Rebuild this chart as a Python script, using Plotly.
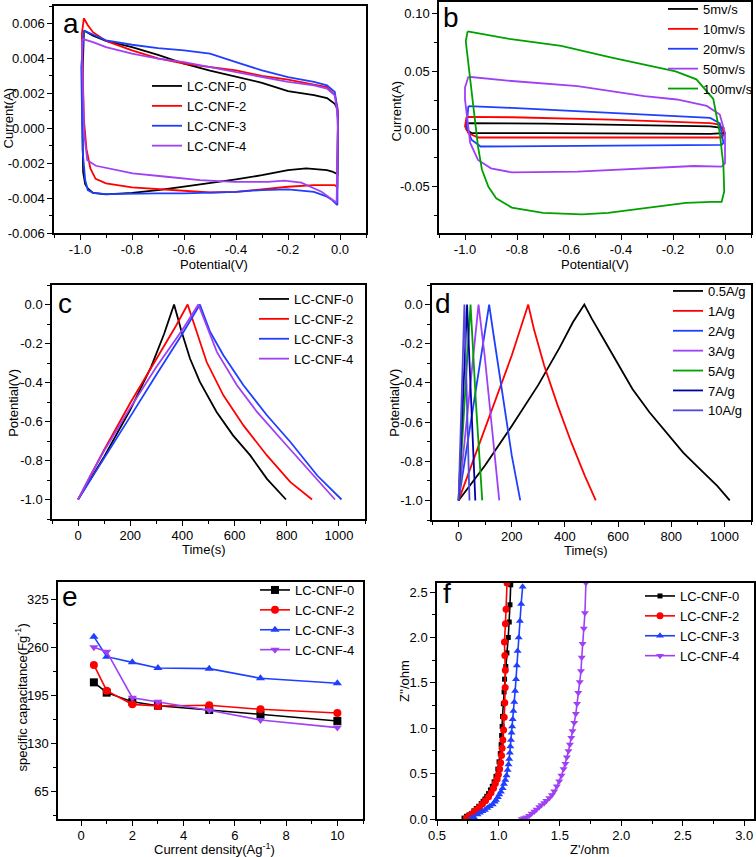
import plotly.graph_objects as go

W, H = 756, 857
FONT = "Liberation Sans, Arial, sans-serif"

# ---------------- data ----------------
# (a) CV of samples at one scan rate: potential (V) and current (A), closed loops
a_names = ["LC-CNF-0", "LC-CNF-2", "LC-CNF-3", "LC-CNF-4"]
a0_v = [-0.985, -0.95, -0.9, -0.8, -0.7, -0.6, -0.5, -0.4, -0.3, -0.2, -0.1, -0.05, -0.02, -0.01, -0.008,
        -0.01, -0.03, -0.05, -0.1, -0.13, -0.2, -0.3, -0.4, -0.5, -0.6, -0.7, -0.8, -0.9, -0.95, -0.97,
        -0.98, -0.988, -0.992, -0.985]
a0_i = [0.0056, 0.0053, 0.0050, 0.00465, 0.0042, 0.0037, 0.0033, 0.00297, 0.0026, 0.00213, 0.0019, 0.00173, 0.0014, 0.0011, 0.0006,
        -0.00263, -0.00248, -0.0024, -0.00232, -0.0023, -0.0024, -0.00269, -0.00293, -0.00316, -0.00335, -0.00354, -0.0037, -0.00379, -0.0037, -0.00345,
        -0.0032, -0.0025, 0.002, 0.0056]
a2_v = [-0.985, -0.97, -0.95, -0.9, -0.8, -0.7, -0.6, -0.5, -0.4, -0.3, -0.2, -0.1, -0.05, -0.02, -0.01, -0.008,
        -0.01, -0.02, -0.05, -0.1, -0.2, -0.3, -0.4, -0.5, -0.6, -0.7, -0.8, -0.9, -0.94, -0.96, -0.975,
        -0.985, -0.99, -0.993, -0.985]
a2_i = [0.0063, 0.0059, 0.0055, 0.0050, 0.00446, 0.0040, 0.0037, 0.0035, 0.00331, 0.0030, 0.00278, 0.0025, 0.00236, 0.0019, 0.0012, 0.0005,
        -0.00339, -0.00326, -0.00326, -0.00326, -0.00335, -0.0035, -0.00364, -0.00368, -0.00358, -0.00349, -0.00339, -0.00316, -0.0029, -0.0023, -0.0012,
        0.0005, 0.003, 0.0054, 0.0063]
a3_v = [-0.985, -0.9, -0.8, -0.7, -0.6, -0.5, -0.4, -0.3, -0.2, -0.1, -0.05, -0.02, -0.01, -0.008,
        -0.01, -0.03, -0.05, -0.1, -0.2, -0.3, -0.4, -0.5, -0.6, -0.7, -0.8, -0.9, -0.95, -0.97,
        -0.98, -0.99, -0.995, -0.985]
a3_i = [0.0056, 0.00503, 0.00478, 0.00459, 0.00446, 0.00427, 0.00379, 0.00331, 0.00293, 0.00265, 0.00246, 0.00208, 0.00103, 0.00008,
        -0.0044, -0.00411, -0.00392, -0.00364, -0.0035, -0.00354, -0.00364, -0.0037, -0.00373, -0.00373, -0.00373, -0.00377, -0.0037, -0.00354,
        -0.00297, -0.00126, 0.0035, 0.0056]
a4_v = [-0.991, -0.95, -0.9, -0.8, -0.7, -0.6, -0.5, -0.4, -0.3, -0.2, -0.1, -0.05, -0.02, -0.01, -0.008,
        -0.013, -0.071, -0.149, -0.214, -0.278, -0.408, -0.538, -0.667, -0.797, -0.939,
        -0.972, -0.984, -0.991, -0.991]
a4_i = [0.00512, 0.00493, 0.00465, 0.00427, 0.00398, 0.00379, 0.0035, 0.00322, 0.00293, 0.00265, 0.00246, 0.00227, 0.00189, 0.00084, 0.0,
        -0.00427, -0.00364, -0.00312, -0.0030, -0.00307, -0.00307, -0.00297, -0.00278, -0.00259, -0.00215,
        -0.00183, -0.0003, 0.0035, 0.00512]

# (b) CV at different scan rates
b_names = ["5mv/s", "10mv/s", "20mv/s", "50mv/s", "100mv/s"]
b5_v = [-0.994, -0.69, -0.057, -0.006, -0.006, -0.057, -0.69, -0.975, -0.994, -0.994]
b5_i = [0.0052, 0.0047, 0.0023, 0.0009, -0.0035, -0.0041, -0.0035, -0.0035, -0.0006, 0.0052]
b10_v = [-0.994, -0.82, -0.44, -0.057, -0.02, 0.0, -0.013, -0.31, -0.69, -0.95, -0.987, -1.0, -0.994]
b10_i = [0.0105, 0.0102, 0.0081, 0.0052, 0.0038, -0.0035, -0.0073, -0.0073, -0.0073, -0.0073, -0.0035, 0.0023, 0.0105]
b20_v = [-0.987, -0.82, -0.44, -0.057, -0.02, -0.006, -0.013, -0.31, -0.69, -0.94, -0.975, -0.994, -0.987]
b20_i = [0.0198, 0.0183, 0.014, 0.0096, 0.005, -0.012, -0.0137, -0.0142, -0.0151, -0.0151, -0.0093, 0.0023, 0.0198]
b50_v = [-0.987, -0.82, -0.567, -0.44, -0.31, -0.185, -0.07, -0.02, 0.0, 0.0, -0.013, -0.12, -0.31, -0.567, -0.82,
         -0.9, -0.95, -0.98, -1.0, -1.0, -0.987]
b50_i = [0.0453, 0.0416, 0.0372, 0.033, 0.0285, 0.0256, 0.020, 0.0125, -0.0035, -0.0297, -0.0326, -0.032, -0.034, -0.0369, -0.0375,
         -0.034, -0.0267, -0.012, 0.0256, 0.036, 0.0453]
b100_v = [-0.99, -0.83, -0.63, -0.44, -0.19, -0.11, -0.045, -0.02, -0.006, -0.003, -0.013,
          -0.05, -0.15, -0.3, -0.45, -0.55, -0.7, -0.82, -0.88, -0.91, -0.935, -0.95, -0.965, -0.98, -0.997, -0.99]
b100_i = [0.0846, 0.078, 0.072, 0.062, 0.050, 0.043, 0.026, -0.0035, -0.032, -0.054, -0.063,
          -0.063, -0.064, -0.068, -0.0725, -0.0738, -0.0725, -0.068, -0.060, -0.050, -0.035, -0.015, 0.015, 0.045, 0.076, 0.0846]

# (c) GCD of samples: time (s), potential (V)
c_names = ["LC-CNF-0", "LC-CNF-2", "LC-CNF-3", "LC-CNF-4"]
c0_t = [0, 100, 200, 280, 330, 368, 397, 429, 467, 531, 594, 660, 724, 797]
c0_v = [-1.0, -0.78, -0.54, -0.32, -0.15, 0.0, -0.14, -0.277, -0.397, -0.551, -0.671, -0.774, -0.894, -1.0]
c2_t = [0, 100, 200, 300, 375, 420, 454, 493, 557, 634, 724, 814, 897]
c2_v = [-1.0, -0.745, -0.505, -0.28, -0.11, 0.0, -0.14, -0.295, -0.466, -0.62, -0.774, -0.911, -1.0]
c3_t = [0, 100, 200, 300, 400, 467, 506, 557, 634, 724, 814, 917, 1010]
c3_v = [-1.0, -0.79, -0.575, -0.36, -0.15, 0.0, -0.14, -0.26, -0.414, -0.568, -0.705, -0.877, -1.0]
c4_t = [0, 50, 100, 200, 300, 400, 461, 493, 532, 609, 686, 788, 891, 985]
c4_v = [-1.0, -0.87, -0.75, -0.53, -0.32, -0.13, 0.0, -0.106, -0.243, -0.414, -0.551, -0.705, -0.86, -1.0]

# (d) GCD at different current densities
d_names = ["0.5A/g", "1A/g", "2A/g", "3A/g", "5A/g", "7A/g", "10A/g"]
d05_t = [0, 100, 200, 300, 380, 430, 473, 501, 552, 603, 654, 718, 782, 845, 909, 973, 1020]
d05_v = [-1.0, -0.82, -0.62, -0.41, -0.22, -0.09, 0.0, -0.072, -0.191, -0.311, -0.431, -0.55, -0.653, -0.756, -0.841, -0.926, -1.0]
d1_t = [0, 60, 130, 200, 262, 283, 322, 373, 424, 475, 516]
d1_v = [-1.0, -0.78, -0.52, -0.26, 0.0, -0.123, -0.311, -0.516, -0.704, -0.875, -1.0]
d2_t = [0, 115, 130, 169, 200, 232]
d2_v = [-1.0, 0.0, -0.14, -0.48, -0.77, -1.0]
d3_t = [0, 75, 98, 124, 153]
d3_v = [-1.0, 0.0, -0.26, -0.6, -1.0]
d5_t = [0, 45, 66, 89]
d5_v = [-1.0, 0.0, -0.52, -1.0]
d7_t = [0, 32, 63]
d7_v = [-1.0, 0.0, -1.0]
d10_t = [0, 22, 41]
d10_v = [-1.0, 0.0, -1.0]

# (e) rate capability
e_density = [0.5, 1, 2, 3, 5, 7, 10]
e_cnf0 = [212.5, 198.6, 186.4, 181.0, 175.2, 169.4, 160.4]
e_cnf2 = [236.0, 201.3, 182.8, 180.6, 181.5, 176.1, 171.2]
e_cnf3 = [274.2, 247.2, 239.5, 231.9, 231.0, 218.0, 211.2]
e_cnf4 = [259.8, 253.9, 191.8, 186.4, 174.8, 161.7, 151.4]

# (f) Nyquist plots: Z' (ohm), -Z'' (ohm)
f0_re = [0.72, 0.74, 0.76, 0.78, 0.80, 0.82, 0.84, 0.86, 0.875, 0.89, 0.905, 0.92, 0.935, 0.95, 0.965, 0.98, 0.995,
         1.005, 1.015, 1.022, 1.026, 1.03, 1.033, 1.04, 1.046, 1.05, 1.06, 1.069, 1.08, 1.088, 1.094, 1.10]
f0_im = [0.01, 0.03, 0.045, 0.06, 0.09, 0.115, 0.14, 0.17, 0.195, 0.22, 0.25, 0.28, 0.32, 0.36, 0.41, 0.47, 0.55,
         0.63, 0.72, 0.82, 0.92, 1.02, 1.13, 1.27, 1.40, 1.54, 1.68, 1.83, 2.0, 2.17, 2.36, 2.58]
f2_re = [0.74, 0.76, 0.78, 0.80, 0.82, 0.845, 0.87, 0.895, 0.92, 0.94, 0.96, 0.975, 0.99, 1.0, 1.01, 1.018, 1.025,
         1.03, 1.036, 1.042, 1.047, 1.052, 1.055, 1.056, 1.052, 1.049, 1.057, 1.062, 1.07]
f2_im = [0.01, 0.03, 0.05, 0.075, 0.10, 0.13, 0.165, 0.20, 0.245, 0.29, 0.34, 0.39, 0.44, 0.49, 0.55, 0.62, 0.70,
         0.78, 0.87, 0.98, 1.12, 1.28, 1.45, 1.64, 1.80, 1.95, 2.15, 2.31, 2.6]
f3_re = [0.78, 0.80, 0.83, 0.85, 0.87, 0.89, 0.91, 0.93, 0.953, 0.97, 0.98, 0.995, 1.007, 1.02, 1.034, 1.045, 1.056,
         1.066, 1.075, 1.082, 1.088, 1.093, 1.097, 1.102, 1.107, 1.112, 1.116, 1.122, 1.129, 1.136, 1.143, 1.15,
         1.156, 1.165, 1.175, 1.185, 1.197]
f3_im = [0.01, 0.02, 0.05, 0.07, 0.085, 0.10, 0.12, 0.14, 0.16, 0.19, 0.21, 0.24, 0.27, 0.30, 0.34, 0.385, 0.43,
         0.48, 0.54, 0.60, 0.66, 0.73, 0.80, 0.87, 0.95, 1.02, 1.10, 1.19, 1.29, 1.41, 1.54, 1.69,
         1.85, 2.0, 2.18, 2.37, 2.56]
f4_re = [1.19, 1.21, 1.23, 1.25, 1.27, 1.292, 1.31, 1.332, 1.35, 1.373, 1.39, 1.414, 1.435, 1.454, 1.475, 1.495,
         1.513, 1.53, 1.545, 1.557, 1.57, 1.582, 1.593, 1.603, 1.617, 1.63, 1.64, 1.65, 1.662, 1.672, 1.678,
         1.685, 1.695, 1.704, 1.712]
f4_im = [0.0, 0.011, 0.02, 0.037, 0.06, 0.084, 0.105, 0.132, 0.155, 0.176, 0.20, 0.23, 0.265, 0.305, 0.36, 0.415,
         0.48, 0.55, 0.61, 0.68, 0.75, 0.82, 0.895, 0.97, 1.06, 1.16, 1.27, 1.39, 1.51, 1.63, 1.78,
         1.93, 2.1, 2.27, 2.6]

# tick labels
a_xtick = [-1.0, -0.8, -0.6, -0.4, -0.2, 0.0]
a_xlab = ["-1.0", "-0.8", "-0.6", "-0.4", "-0.2", "0.0"]
a_ytick = [0.006, 0.004, 0.002, 0.0, -0.002, -0.004, -0.006]
a_ylab = ["0.006", "0.004", "0.002", "0.000", "-0.002", "-0.004", "-0.006"]
b_ytick = [0.10, 0.05, 0.0, -0.05]
b_ylab = ["0.10", "0.05", "0.00", "-0.05"]
c_xtick = [0, 200, 400, 600, 800, 1000]
c_xlab = ["0", "200", "400", "600", "800", "1000"]
c_ytick = [0.0, -0.2, -0.4, -0.6, -0.8, -1.0]
c_ylab = ["0.0", "-0.2", "-0.4", "-0.6", "-0.8", "-1.0"]
e_xtick = [0, 2, 4, 6, 8, 10]
e_xlab = ["0", "2", "4", "6", "8", "10"]
e_ytick = [65, 130, 195, 260, 325]
e_ylab = ["65", "130", "195", "260", "325"]
f_xtick = [0.5, 1.0, 1.5, 2.0, 2.5, 3.0]
f_xlab = ["0.5", "1.0", "1.5", "2.0", "2.5", "3.0"]
f_ytick = [0.0, 0.5, 1.0, 1.5, 2.0, 2.5]
f_ylab = ["0.0", "0.5", "1.0", "1.5", "2.0", "2.5"]

# axis titles
t_potential = "Potential(V)"
t_current = "Current(A)"
t_time = "Time(s)"
t_density = "Current density(Ag<sup>-1</sup>)"
t_capac = "specific capacitance(Fg<sup>-1</sup>)"
t_zre = "Z'/ohm"
t_zim = "Z''/ohm"

# ---------------- styling ----------------
BLACK, RED, BLUE, PURPLE, GREEN, NAVY, ROYAL = "#000000", "#ff0000", "#1f3fff", "#a040f5", "#00a000", "#0000a0", "#5048d8"

def xd(l, r):
    return [l / W, r / W]

def yd(t, b):
    return [1 - b / H, 1 - t / H]

def ax(domain, rng, tickvals, ticktext, minor_vals, anchor, standoff=0):
    return dict(
        domain=domain, range=rng, anchor=anchor, automargin=False,
        showline=True, linecolor="black", linewidth=1.5, mirror=True,
        ticks="outside", ticklen=5, tickwidth=1.3, tickcolor="black",
        tickmode="array", tickvals=tickvals, ticktext=ticktext, ticklabelstandoff=standoff,
        minor=dict(tickmode="array", tickvals=minor_vals, ticks="outside", ticklen=3, tickwidth=1.1, tickcolor="black"),
        showgrid=False, zeroline=False,
        tickfont=dict(family=FONT, size=13, color="black"),
    )

fig = go.Figure()

def add_line(x, y, name, color, xa, ya, legend, width=1.8):
    fig.add_trace(go.Scatter(x=x, y=y, mode="lines", name=name, line=dict(color=color, width=width),
                             xaxis=xa, yaxis=ya, legend=legend))

def add_marked(x, y, name, color, symbol, size, xa, ya, legend):
    fig.add_trace(go.Scatter(x=x, y=y, mode="lines+markers", name=name,
                             line=dict(color=color, width=1.6),
                             marker=dict(symbol=symbol, size=size, color=color),
                             xaxis=xa, yaxis=ya, legend=legend))

# (a)
for v, i, n, c in zip([a0_v, a2_v, a3_v, a4_v], [a0_i, a2_i, a3_i, a4_i], a_names, [BLACK, RED, BLUE, PURPLE]):
    add_line(v, i, n, c, "x", "y", "legend")
# (b)
for v, i, n, c in zip([b5_v, b10_v, b20_v, b50_v, b100_v], [b5_i, b10_i, b20_i, b50_i, b100_i], b_names,
                      [BLACK, RED, BLUE, PURPLE, GREEN]):
    add_line(v, i, n, c, "x2", "y2", "legend2")
# (c)
for t, v, n, c in zip([c0_t, c2_t, c3_t, c4_t], [c0_v, c2_v, c3_v, c4_v], c_names, [BLACK, RED, BLUE, PURPLE]):
    add_line(t, v, n, c, "x3", "y3", "legend3")
# (d)
for t, v, n, c in zip([d05_t, d1_t, d2_t, d3_t, d5_t, d7_t, d10_t], [d05_v, d1_v, d2_v, d3_v, d5_v, d7_v, d10_v],
                      d_names, [BLACK, RED, BLUE, PURPLE, GREEN, NAVY, ROYAL]):
    add_line(t, v, n, c, "x4", "y4", "legend4")
# (e)
for y, n, c, s in zip([e_cnf0, e_cnf2, e_cnf3, e_cnf4], c_names, [BLACK, RED, BLUE, PURPLE],
                      ["square", "circle", "triangle-up", "triangle-down"]):
    add_marked(e_density, y, n, c, s, 8, "x5", "y5", "legend5")
# (f)
for x, y, n, c, s, sz in zip([f0_re, f2_re, f3_re, f4_re], [f0_im, f2_im, f3_im, f4_im], c_names,
                             [BLACK, RED, BLUE, PURPLE], ["square", "circle", "triangle-up", "triangle-down"],
                             [5, 7, 7, 7]):
    add_marked(x, y, n, c, s, sz, "x6", "y6", "legend6")

def frange(a, b, s):
    out, v = [], a
    while v <= b + 1e-9:
        out.append(round(v, 6))
        v += s
    return out

layout = dict(
    width=W, height=H, margin=dict(l=0, r=0, t=0, b=0, autoexpand=False), autosize=False,
    paper_bgcolor="white", plot_bgcolor="white",
    font=dict(family=FONT, size=13, color="black"),
    showlegend=True,
    xaxis=ax(xd(54, 366), [-1.1, 0.1], a_xtick, a_xlab, frange(-1.1, 0.1, 0.2), "y", -1),
    yaxis=ax(yd(6, 233), [-0.006, 0.007], a_ytick, a_ylab, frange(-0.005, 0.007, 0.002), "x"),
    xaxis2=ax(xd(439, 751), [-1.1, 0.1], a_xtick, a_xlab, frange(-1.1, 0.1, 0.2), "y2", -1),
    yaxis2=ax(yd(2, 233), [-0.09, 0.11], b_ytick, b_ylab, frange(-0.075, 0.11, 0.05), "x2"),
    xaxis3=ax(xd(52, 365), [-100, 1100], c_xtick, c_xlab, frange(-100, 1100, 200), "y3", -1),
    yaxis3=ax(yd(285, 519), [-1.1, 0.1], c_ytick, c_ylab, frange(-1.1, 0.1, 0.2), "x3"),
    xaxis4=ax(xd(432, 751), [-100, 1100], c_xtick, c_xlab, frange(-100, 1100, 200), "y4", -1),
    yaxis4=ax(yd(285, 520), [-1.1, 0.1], c_ytick, c_ylab, frange(-1.1, 0.1, 0.2), "x4"),
    xaxis5=ax(xd(58, 363), [-0.9, 11], e_xtick, e_xlab, frange(1, 11, 2), "y5", -1),
    yaxis5=ax(yd(582, 819), [28, 348], e_ytick, e_ylab, frange(32.5, 348, 65), "x5"),
    xaxis6=ax(xd(437, 754), [0.5, 3.08], f_xtick, f_xlab, frange(0.75, 3.08, 0.5), "y6", -1),
    yaxis6=ax(yd(583, 819), [0.0, 2.6], f_ytick, f_ylab, frange(0.25, 2.6, 0.5), "x6"),
)

def leg(xpx, toppx):
    return dict(x=xpx / W, y=1 - toppx / H, xanchor="left", yanchor="top", bgcolor="rgba(0,0,0,0)",
                borderwidth=0, font=dict(family=FONT, size=13, color="black"), itemwidth=30,
                tracegroupgap=0)

layout["legend"] = leg(147, 71)
layout["legend2"] = leg(663, -6)
layout["legend3"] = leg(254, 284)
layout["legend4"] = leg(668, 276)
layout["legend5"] = leg(255, 575)
layout["legend6"] = leg(640, 581)

annotations = []
# panel letters (centre positions in px)
for t, x, y in [("a", 71, 23.5), ("b", 450.5, 17), ("c", 64.7, 303.6), ("d", 443, 303.6), ("e", 69.7, 596),
                ("f", 446.5, 593.6)]:
    annotations.append(dict(text=t, x=x / W, y=1 - y / H, xref="paper", yref="paper", xanchor="center",
                            yanchor="middle", showarrow=False, font=dict(family=FONT, size=28, color="black")))
# x-axis titles
for t, x, y in [(t_potential, 214, 264), (t_potential, 594.7, 264), (t_time, 204, 549.5), (t_time, 585.5, 550),
                (t_density, 214, 849), (t_zre, 589, 849)]:
    annotations.append(dict(text=t, x=x / W, y=1 - y / H, xref="paper", yref="paper", xanchor="center",
                            yanchor="middle", showarrow=False, font=dict(family=FONT, size=13, color="black")))
# y-axis titles
for t, x, y in [(t_current, 7.5, 118), (t_current, 395.5, 111), (t_potential, 13.3, 402.5),
                (t_potential, 394.7, 403), (t_capac, 21.5, 698), (t_zim, 404, 681)]:
    annotations.append(dict(text=t, x=x / W, y=1 - y / H, xref="paper", yref="paper", xanchor="center",
                            yanchor="middle", textangle=-90, showarrow=False,
                            font=dict(family=FONT, size=13, color="black")))
layout["annotations"] = annotations

fig.update_layout(**layout)
fig.write_html("out.html", config={"displayModeBar": False},
               post_script="document.body.style.margin='0';document.body.style.padding='0';")
